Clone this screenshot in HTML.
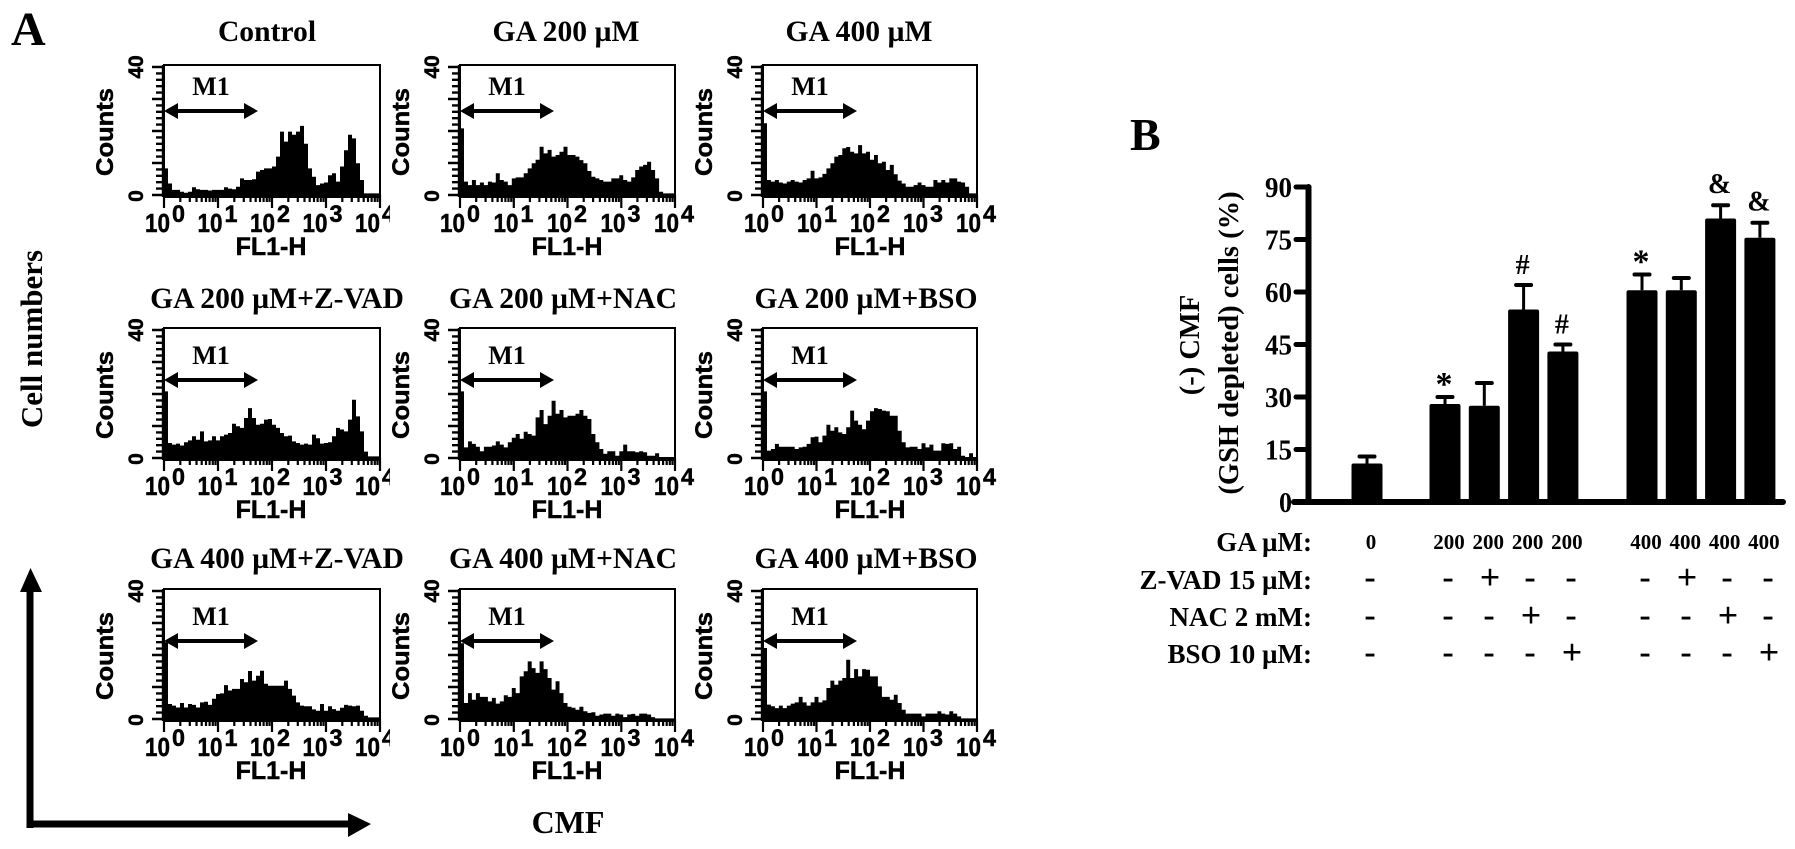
<!DOCTYPE html>
<html lang="en">
<head>
<meta charset="utf-8">
<title>Flow cytometry CMF histograms and GSH depleted cells bar chart</title>
<style>
html,body{margin:0;padding:0;background:#fff;width:1795px;height:849px;overflow:hidden}
svg{display:block}
text{fill:#000}
.serif{font-family:"Liberation Serif","DejaVu Serif",serif;font-weight:bold}
.sans{font-family:"Liberation Sans","DejaVu Sans",sans-serif;font-weight:bold;stroke:#000;stroke-width:0.5px}
</style>
</head>
<body>
<svg id="figure" xmlns="http://www.w3.org/2000/svg" width="1795" height="849" viewBox="0 0 1795 849">
  <rect x="0" y="0" width="1795" height="849" fill="#fff"/>
  <text class="serif" x="11" y="45" font-size="48">A</text>
  <text class="serif" x="1130" y="150" font-size="46">B</text>
  <text class="serif" font-size="31" text-anchor="middle" transform="translate(42 339) rotate(-90)">Cell numbers</text>
  <text class="serif" font-size="32" text-anchor="middle" x="568" y="833">CMF</text>
  <g>
    <rect x="26.5" y="590" width="7" height="238" fill="#000"/>
    <polygon points="30.5,568 42,592 20,592" fill="#000"/>
  </g>
  <g>
    <rect x="26.5" y="820.5" width="323" height="7" fill="#000"/>
    <polygon points="371,824 348,813 348,837" fill="#000"/>
  </g>
  <g id="histograms"></g>
  <g id="barchart">
    <text class="serif" font-size="28.5" text-anchor="middle" transform="translate(1199 345) rotate(-90)">(-) CMF</text>
    <text class="serif" font-size="28.5" text-anchor="middle" transform="translate(1238 343) rotate(-90)">(GSH depleted) cells (%)</text>
    <text class="serif" font-size="27" text-anchor="end" x="1312" y="551">GA µM:</text>
    <text class="serif" font-size="27" text-anchor="end" x="1312" y="589">Z-VAD 15 µM:</text>
    <text class="serif" font-size="27" text-anchor="end" x="1312" y="626">NAC 2 mM:</text>
    <text class="serif" font-size="27" text-anchor="end" x="1312" y="663">BSO 10 µM:</text>
  </g>
</svg>
<script>
// ---- Histogram data (counts per bin, 54 bins across four decades) ----
const histControl = [8.3,3.6,1.6,1.6,1,0.7,1,2.4,1.8,1.6,1.6,1.4,1.6,1.6,1.6,2.4,2,1.8,2.6,5.2,4.7,4.7,4.9,7.3,7.8,8.3,8.3,8.9,12,19.8,16.7,19.8,18.8,19.8,21.6,16,8.3,5.7,3.1,3.6,3.9,6.2,6.8,4.2,8.9,14,18.8,17.7,9.9,4.7,0.5,0.5,0.5,0.5];
const histGa200 = [20.8,4.2,3.1,4.7,3.1,3.9,3.1,4.2,3.9,6.8,4.7,4.2,3.1,5.2,5.5,5.5,6.8,8.3,9.9,11,15.1,13,14.1,12,12.5,13.5,15.1,12.5,12.5,12,10.9,9.9,7.5,5.7,5.2,4.7,4.2,4.2,5.2,5.2,6.2,4.7,4.2,5.5,7.8,8.9,9.4,10.4,7.8,5.2,1,0.5,0.5,0.5];
const histGa400 = [22.4,4.7,4.2,4.7,3.9,3.6,4.2,4.7,4.2,3.9,4.7,5.2,7.6,5.2,5.5,6.6,8.3,9.9,12,12.5,14.6,15,13.5,13,15.6,13,13.5,11,12.5,9.9,10.4,7.8,9.4,6.5,4.5,3.6,2.6,2.6,3.1,3.9,3.1,2.6,2.6,4.7,3.9,4.7,3.9,5.2,5.2,4.2,3.9,2.6,0.5,0.5];
const histGa200Zvad = [20.8,4.7,4.2,4.5,3.9,4.9,5.5,6.8,5.7,8.3,5.2,5.5,6.8,5.5,6.8,7.3,7.8,10.7,9.9,9.4,12.5,15.6,12.5,10.4,10.7,12,12.2,10.4,9.4,7.8,6.8,7,5.2,4.7,4.2,4.5,4.2,7.3,6.2,4.5,4.7,4.9,6.8,9.4,8.9,8.3,12,18.2,13,8.3,2,0.5,0.5,0.5];
const histGa200Nac = [20.8,3.3,5.2,4.4,3.5,2.1,3.5,3.5,3.9,5.2,4.2,3.3,4.9,6.3,7.5,6,8.2,7.5,7,12.7,15,10.6,13.2,17.9,13.8,15,12.7,13.2,13.2,13.8,15,13.2,12.2,7.5,4.9,2.8,1.3,2.1,2.1,0.7,2.1,4.2,2.1,2.1,1.8,2.1,1.8,0.7,0.7,1.5,0.3,0.3,0.3,0.3];
const histGa200Bso = [20.8,2.3,2.8,4.4,3.5,3.5,3.5,3.5,2.8,3.3,3.5,4.4,6.5,6.7,4.9,7,10.4,8.5,9.6,8,7.5,9.6,14.8,11.7,10.4,9,11.7,14.6,15.6,15.3,14.8,14.6,13.2,13.2,8.5,4.9,3.3,3.5,3.5,2.8,4.6,3.3,4.2,2.3,2.3,4.6,4.4,4.6,2.8,3.5,0.7,0.3,1.5,0.3];
const histGa400Zvad = [24,4.7,4.2,3.6,5,3.6,4.7,4.4,3.6,5.2,5.4,4.4,6.3,7.8,8,10.6,8.9,9.4,9.4,12.5,11.5,15,12,13.5,15.1,11,10.4,10.4,10.4,10.4,12,9.4,7.3,5.2,4.2,4,4,3,2.6,4.7,2.6,4,3.1,2.6,3.5,4.4,4.2,4,4.2,2.6,1,0.5,0.5,0.5];
const histGa400Nac = [23.7,5,8.1,6,8.1,6.9,6.9,5.5,6.6,4.8,5.5,7.4,6.9,9.7,8.1,13.3,14.9,18,15.9,14.4,18,15.6,12.8,9.2,11.8,8.1,5,3.8,3.5,2.9,3.8,2.4,1.9,2.1,1,1.4,1.7,1.7,1,1.7,1.4,0.6,1.4,1.6,1,1.7,1.7,1.4,0.6,0.2,0.2,0.2,0.2,0.2];
const histGa400Bso = [22.2,4.5,4,3.4,4.2,3.4,4.2,4.8,5.2,6.9,5.2,4.2,5.2,6.9,5.2,5.8,9.7,12,10.7,12,12.8,18.5,12.8,15.6,13.3,15.6,15.4,13.3,13.3,10.2,6.9,6.9,6,7.6,5,2.9,1.7,1.7,1.7,1.7,0.8,1.7,1.7,1.7,2.4,1.7,1.4,2.4,1.7,0.8,0.2,0.2,0.2,0.2];
const histograms = [histControl,histGa200,histGa400,histGa200Zvad,histGa200Nac,histGa200Bso,histGa400Zvad,histGa400Nac,histGa400Bso];
const panelTitles = ["Control","GA 200 µM","GA 400 µM","GA 200 µM+Z-VAD","GA 200 µM+NAC","GA 200 µM+BSO","GA 400 µM+Z-VAD","GA 400 µM+NAC","GA 400 µM+BSO"];
const decadeTicks = [0,1,2,3,4];
const countTicks = [0,10,20,30,40];
const countLabels = [0,40];
const markerName = "M1";

// ---- Bar chart data ----
const categories = ["GA 0","GA 200","GA 200 + Z-VAD","GA 200 + NAC","GA 200 + BSO","GA 400","GA 400 + Z-VAD","GA 400 + NAC","GA 400 + BSO"];
const barValues = [11,28,27.5,55,43,60.5,60.5,81,75.5];
const errorTops = [13,30,34,62,45,65,64,84.8,79.8];
const significance = ["","*","","#","#","*","","&","&"];
const yTickValues = [0,15,30,45,60,75,90];
const gaDoses = ["0","200","200","200","200","400","400","400","400"];
const zvadFlags = ["-","-","+","-","-","-","+","-","-"];
const nacFlags = ["-","-","-","+","-","-","-","+","-"];
const bsoFlags = ["-","-","-","-","+","-","-","-","+"];

const NS = "http://www.w3.org/2000/svg";
function el(tag, attrs, parent, content){
  const e = document.createElementNS(NS, tag);
  for (const k in attrs) e.setAttribute(k, attrs[k]);
  if (content !== undefined) e.textContent = content;
  parent.appendChild(e);
  return e;
}

// ---- Histogram panels ----
const hostA = document.getElementById("histograms");
const panelGeom = [
  {left:164,right:380,titleX:267},{left:460,right:675,titleX:566},{left:763,right:977,titleX:859},
  {left:164,right:380,titleX:277},{left:460,right:675,titleX:563},{left:763,right:977,titleX:866},
  {left:164,right:380,titleX:277},{left:460,right:675,titleX:563},{left:763,right:977,titleX:866}
];
const rowGeom = [
  {top:65,titleY:41,arrow:46,marker:30},
  {top:328,titleY:308,arrow:52,marker:36},
  {top:589,titleY:568,arrow:52,marker:36}
];
const labelLayout = [{offset:-19,step:52.5},{offset:-20,step:53.5},{offset:-19,step:53}];

histograms.forEach(function(bins, p){
  const col = p % 3, row = Math.floor(p / 3);
  const G = panelGeom[p], R = rowGeom[row], L = labelLayout[col];
  const left = G.left, right = G.right, top = R.top, base = top + 130;
  const xBin = function(i){ return left + i * (right - left) / bins.length; };
  const xLog = function(d){ return left + d * (right - left) / 4; };
  const yCount = function(v){ return base - v * 128 / 40; };
  const clipId = "panel-clip-" + p;

  const g = el("g", {}, hostA);
  
  

  const cp = el("clipPath", {id: clipId}, g);
  el("rect", {x: left - 40, y: top - 20, width: col === 0 ? 266 : 300, height: 230}, cp);

  const title = el("text", {"class":"serif","font-size":29.6,"text-anchor":"middle",x:G.titleX,y:R.titleY}, g, panelTitles[p]);
  
  

  let d = "M" + left + " " + (base + 2);
  bins.forEach(function(v, i){
    d += "L" + xBin(i).toFixed(1) + " " + yCount(v).toFixed(1) + "L" + xBin(i + 1).toFixed(1) + " " + yCount(v).toFixed(1);
  });
  d += "L" + right + " " + (base + 2) + "Z";
  const area = el("path", {d: d, fill: "#000"}, g);
  
  

  const box = el("path", {d: "M" + left + " " + (base + 2) + "V" + top + "H" + right + "V" + (base + 2) + "H" + left, fill: "none", stroke: "#000", "stroke-width": 2}, g);
  
  

  let yt = "";
  for (let v = 0; v <= 40; v += 2) {
    yt += "M" + (left - 8) + " " + yCount(v).toFixed(1) + "H" + left;
  }
  countTicks.forEach(function(v){
    yt += "M" + (left - 12) + " " + yCount(v).toFixed(1) + "H" + left;
  });
  const yAxis = el("path", {d: yt + "M" + (left - 1) + " " + top + "V" + (base + 2), stroke: "#000", "stroke-width": 2.4, fill: "none"}, g);
  
  

  let xt = "";
  decadeTicks.forEach(function(dec){
    xt += "M" + xLog(dec).toFixed(1) + " " + base + "V" + (base + 13);
    if (dec < 4) {
      for (let m = 2; m < 10; m++) {
        xt += "M" + xLog(dec + Math.log10(m)).toFixed(1) + " " + base + "V" + (base + 7);
      }
    }
  });
  const xAxis = el("path", {d: xt, stroke: "#000", "stroke-width": 2.2, fill: "none"}, g);
  
  

  const labels = el("g", {"clip-path": "url(#" + clipId + ")"}, g);
  
  
  decadeTicks.forEach(function(dec){
    const lx = left + L.offset + dec * L.step;
    const ten = el("text", {"class":"sans","font-size":26,x:lx,y:top + 167,textLength:25,lengthAdjust:"spacingAndGlyphs"}, labels, "10");
    
    
    const sup = el("text", {"class":"sans","font-size":24,x:lx + 27,y:top + 157,textLength:13,lengthAdjust:"spacingAndGlyphs"}, labels, String(dec));
    
    
  });

  const xTitle = el("text", {"class":"sans","font-size":25,"text-anchor":"middle",x:left + 107,y:top + 190}, g, "FL1-H");
  
  

  const yTitle = el("text", {"class":"sans","font-size":24,"text-anchor":"middle",transform:"translate(" + (left - 51) + " " + (top + 67) + ") rotate(-90)",textLength:88,lengthAdjust:"spacingAndGlyphs"}, g, "Counts");
  
  

  countLabels.forEach(function(v){
    const t = el("text", {"class":"sans","font-size":21,"text-anchor":"middle",transform:"translate(" + (left - 21) + " " + (yCount(v) + (v === 0 ? 1 : 0)).toFixed(1) + ") rotate(-90)"}, g, String(v));
    
    
  });

  const mk = el("text", {"class":"serif","font-size":26,"text-anchor":"middle",x:left + 47,y:top + R.marker}, g, markerName);
  
  

  const ay = top + R.arrow, ax0 = left, ax1 = left + 94;
  const arrow = el("path", {d: "M" + ax0 + " " + ay + "l14 -8v6H" + (ax1 - 14) + "v-6l14 8l-14 8v-6H" + (ax0 + 14) + "v6Z", fill: "#000"}, g);
  
  
});

// ---- Bar chart ----
const hostB = document.getElementById("barchart");
const yPct = function(v){ return 502 - v * 3.5; };
const xBand = function(i){
  if (i === 0) return 1367;
  if (i < 5) return 1445 + (i - 1) * 39.3;
  return 1642 + (i - 5) * 39.3;
};
const xFlag = function(i){
  if (i === 0) return 1370;
  if (i < 5) return 1448 + (i - 1) * 41;
  return 1645 + (i - 5) * 41;
};

barValues.forEach(function(v, i){
  const stem = el("line", {x1:xBand(i),x2:xBand(i),y1:yPct(v),y2:yPct(errorTops[i]),stroke:"#000","stroke-width":3}, hostB);
  
  
  const cap = el("line", {x1:xBand(i) - 7.5,x2:xBand(i) + 7.5,y1:yPct(errorTops[i]),y2:yPct(errorTops[i]),stroke:"#000","stroke-width":4,"stroke-linecap":"round"}, hostB);
  
  
  const bar = el("rect", {x:xBand(i) - 15.5,y:yPct(v),width:31,height:502 - yPct(v),rx:2,fill:"#000"}, hostB);
  
  
  if (significance[i]) {
    const s = significance[i];
    const dy = s === "*" ? -2 : (s === "#" ? -11 : -12);
    const mark = el("text", {"class":"serif","font-size":s === "*" ? 34 : 28,"font-weight":s === "#" ? "normal" : "bold","text-anchor":"middle",x:xBand(i) - 1,y:yPct(errorTops[i]) + dy}, hostB, s);
    
    
  }
});

const yAxisB = el("path", {d:"M1308.5 " + yPct(90) + "V502M1294 502H1783", stroke:"#000","stroke-width":6,"stroke-linecap":"round",fill:"none"}, hostB);



yTickValues.forEach(function(v){
  const t = el("line", {x1:1296,x2:1309,y1:yPct(v),y2:yPct(v),stroke:"#000","stroke-width":5,"stroke-linecap":"round"}, hostB);
  
  
  const l = el("text", {"class":"serif","font-size":29,"text-anchor":"end",x:1292,y:yPct(v) + 10,textLength:v === 0 ? 13 : 27,lengthAdjust:"spacingAndGlyphs"}, hostB, String(v));
  
  
});

gaDoses.forEach(function(txt, i){
  const t = el("text", {"class":"serif","font-size":21,"text-anchor":"middle",x:xBand(i) + 4,y:549}, hostB, txt);
  
  
});

[[zvadFlags, 588],[nacFlags, 626],[bsoFlags, 663]].forEach(function(rowDef){
  rowDef[0].forEach(function(flag, i){
    const plus = flag === "+";
    const t = el("text", {"class":"serif","font-size":plus ? 36 : 34,"font-weight":plus ? "normal" : "bold","text-anchor":"middle",x:xFlag(i) + (plus ? 1 : 0),y:rowDef[1] + (plus ? 1 : 0)}, hostB, flag);
    
    
  });
});
</script>
</body>
</html>
